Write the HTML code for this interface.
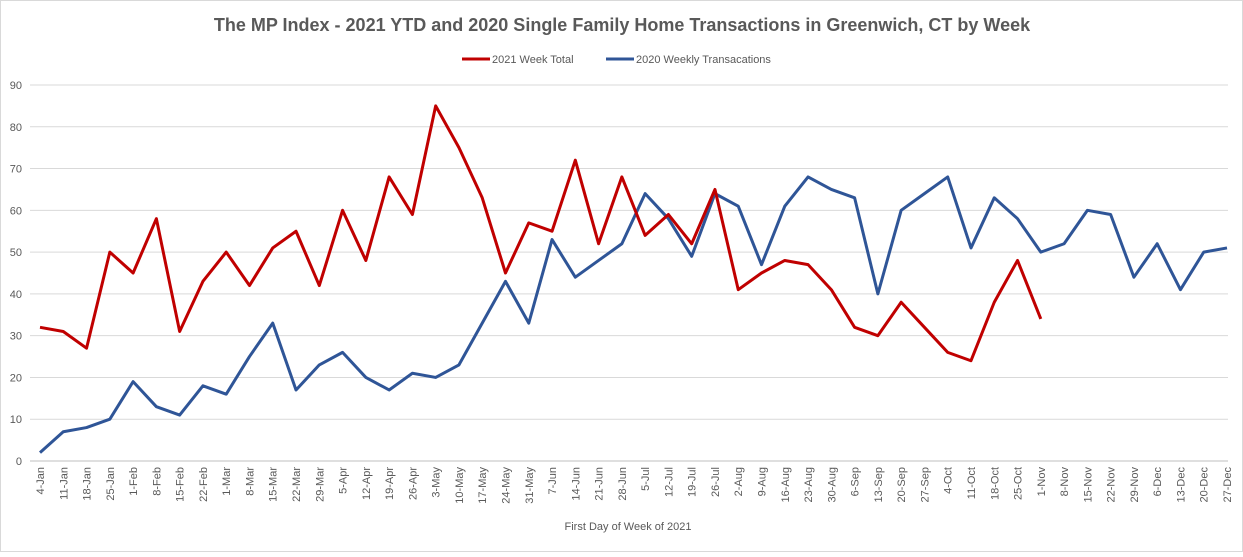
<!DOCTYPE html>
<html><head><meta charset="utf-8"><style>
body{margin:0;background:#fff;font-family:"Liberation Sans",sans-serif}
svg text{font-family:"Liberation Sans",sans-serif}
</style></head><body>
<svg id="chart" width="1243" height="552" xmlns="http://www.w3.org/2000/svg">
<rect x="0.5" y="0.5" width="1242" height="551" fill="#fff" stroke="#d9d9d9"/>
<text x="622" y="31" text-anchor="middle" font-size="18" font-weight="bold" fill="#595959">The MP Index - 2021 YTD and 2020 Single Family Home Transactions  in Greenwich, CT by Week</text>
<g>
<line x1="462" y1="59" x2="490" y2="59" stroke="#c00000" stroke-width="3"/>
<text x="492" y="63" font-size="11" fill="#595959">2021 Week Total</text>
<line x1="606" y1="59" x2="634" y2="59" stroke="#2f5597" stroke-width="3"/>
<text x="636" y="63" font-size="11" fill="#595959">2020 Weekly Transacations</text>
</g>
<g id="grid"></g><g id="xlabels"></g><g id="series"></g>
<text x="628" y="530" text-anchor="middle" font-size="11" fill="#595959">First Day of Week of 2021</text>
</svg>
<script>
const categories=["4-Jan","11-Jan","18-Jan","25-Jan","1-Feb","8-Feb","15-Feb","22-Feb","1-Mar","8-Mar","15-Mar","22-Mar","29-Mar","5-Apr","12-Apr","19-Apr","26-Apr","3-May","10-May","17-May","24-May","31-May","7-Jun","14-Jun","21-Jun","28-Jun","5-Jul","12-Jul","19-Jul","26-Jul","2-Aug","9-Aug","16-Aug","23-Aug","30-Aug","6-Sep","13-Sep","20-Sep","27-Sep","4-Oct","11-Oct","18-Oct","25-Oct","1-Nov","8-Nov","15-Nov","22-Nov","29-Nov","6-Dec","13-Dec","20-Dec","27-Dec"];
const values2021=[32,31,27,50,45,58,31,43,50,42,51,55,42,60,48,68,59,85,75,63,45,57,55,72,52,68,54,59,52,65,41,45,48,47,41,32,30,38,32,26,24,38,48,34];
const values2020=[2,7,8,10,19,13,11,18,16,25,33,17,23,26,20,17,21,20,23,33,43,33,53,44,48,52,64,58,49,64,61,47,61,68,65,63,40,60,64,68,51,63,58,50,52,60,59,44,52,41,50,51];
const yTicks=[0,10,20,30,40,50,60,70,80,90];
const NS="http://www.w3.org/2000/svg";
const x0=40,x1=1227,yb=461,yt=85,ymax=90;
const xs=i=>x0+i*(x1-x0)/(categories.length-1);
const ys=v=>yb-v*(yb-yt)/ymax;
function mk(t,a,p){const e=document.createElementNS(NS,t);for(const k in a)e.setAttribute(k,a[k]);p.appendChild(e);return e;}
const grid=document.getElementById('grid');
yTicks.forEach(v=>{
 const l=mk('line',{x1:30,x2:1228,y1:ys(v),y2:ys(v),stroke:v===0?'#bfbfbf':'#d9d9d9','stroke-width':1},grid);
 
 
 const t=mk('text',{x:22,y:ys(v)+4,'text-anchor':'end','font-size':11,fill:'#595959'},grid);
 t.textContent=v;
 
 
});
const xl=document.getElementById('xlabels');
categories.forEach((c,i)=>{
 const t=mk('text',{x:0,y:0,'text-anchor':'end','font-size':11,fill:'#595959',transform:`translate(${xs(i)+4},467) rotate(-90)`},xl);
 t.textContent=c;
 
 
});
const sg=document.getElementById('series');
function line(vals,color,name){
 const p=mk('polyline',{points:vals.map((v,i)=>xs(i)+','+ys(v)).join(' '),fill:'none',stroke:color,'stroke-width':3,'stroke-linejoin':'round'},sg);
 
 
}
line(values2020,'#2f5597','line-2020');
line(values2021,'#c00000','line-2021');
</script>
</body></html>
